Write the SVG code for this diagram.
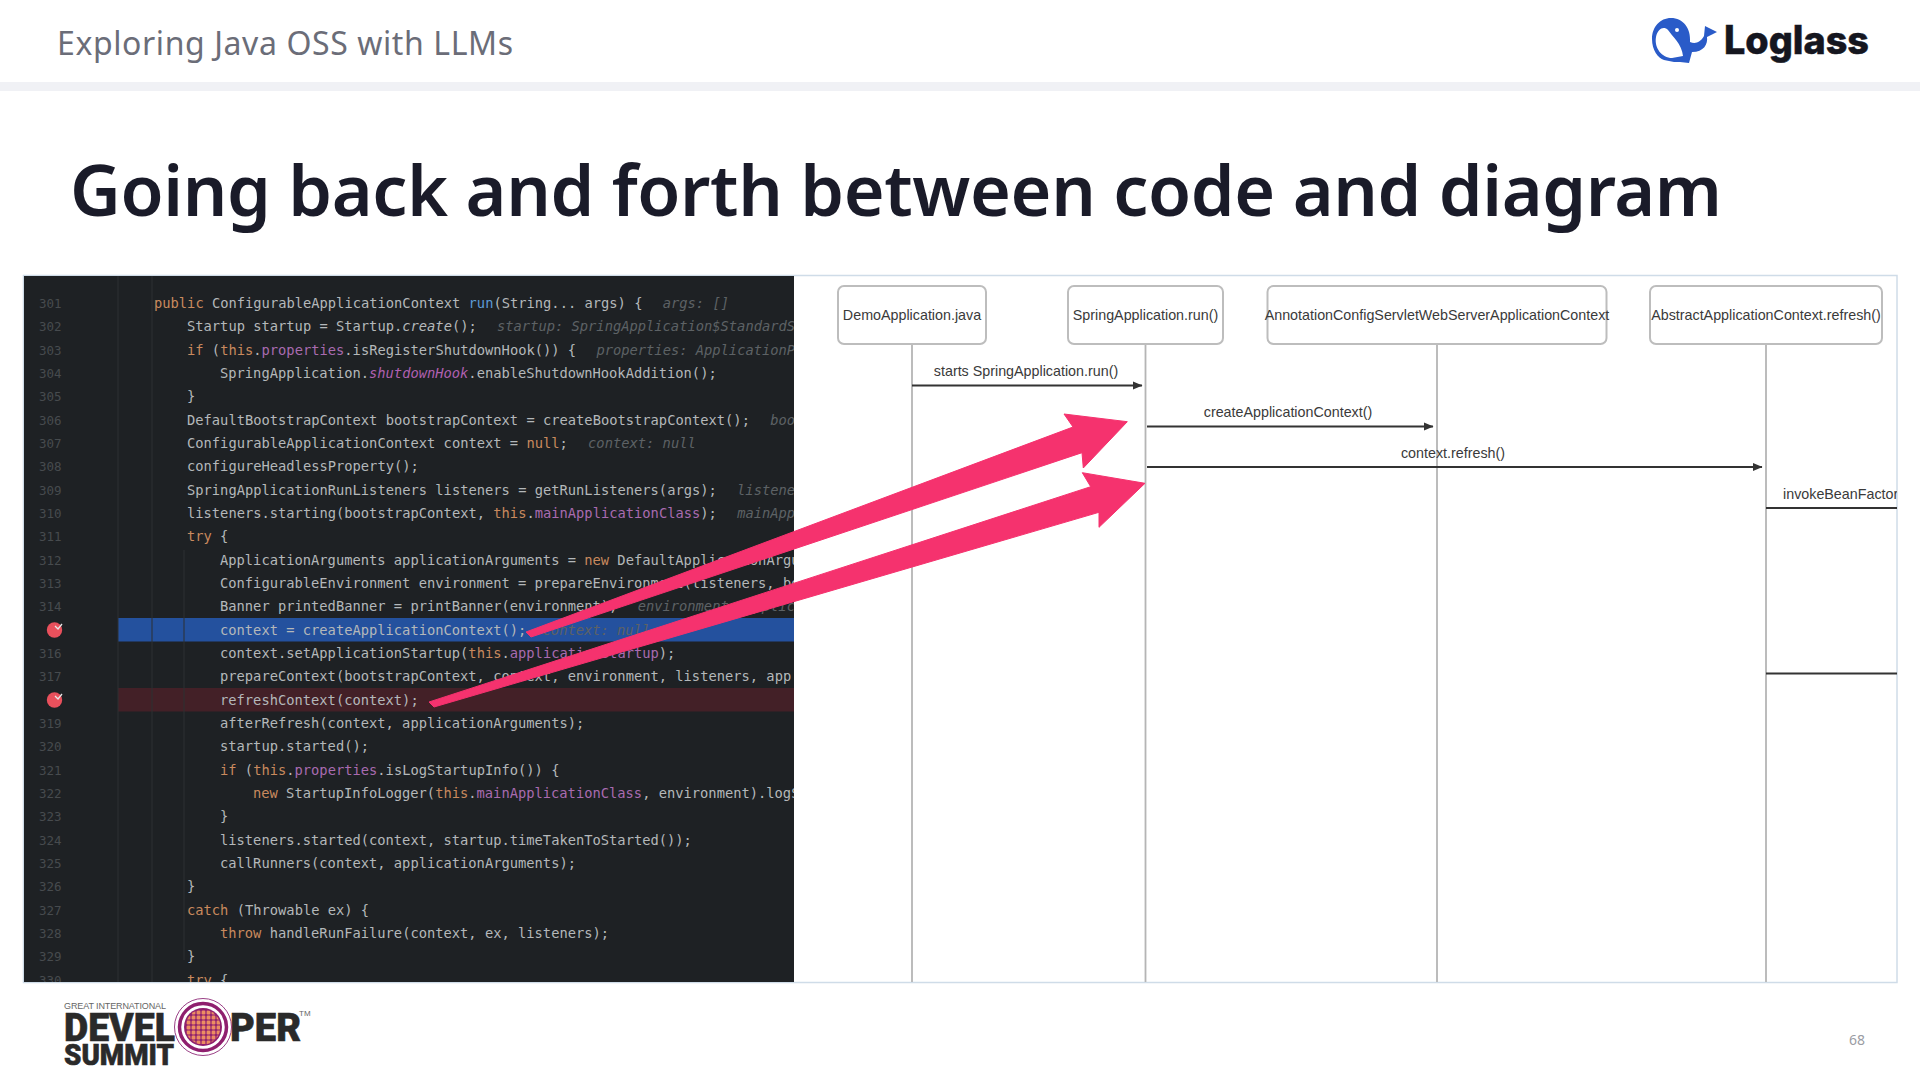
<svg xmlns="http://www.w3.org/2000/svg" width="1920" height="1080" viewBox="0 0 1920 1080">
<defs>
<style>
.c{font-family:"DejaVu Sans Mono","Liberation Mono",monospace;font-size:13.75px;fill:#b4b8ba}
.n{font-family:"DejaVu Sans Mono","Liberation Mono",monospace;font-size:12.5px;fill:#474b4e}
.k{fill:#c98a5e}.f{fill:#a96bb0}.h{fill:#5d6265;font-style:italic}.b{fill:#5c9bd6}.i{fill:#b060b0;font-style:italic}
.s{font-family:"Liberation Sans",Arial,sans-serif;font-size:14.3px;fill:#3a3a3a}
.box{fill:#fff;stroke:#bdbdbd;stroke-width:2}
.life{stroke:#b5b5b5;stroke-width:1.8;fill:none}
.msg{stroke:#333;stroke-width:1.8;fill:none}
.g{stroke:#2c3033;stroke-width:1;fill:none}
.d{font-family:Roboto,sans-serif;font-weight:900;fill:#2a2a2a;stroke:#2a2a2a;stroke-width:.6}
</style>
<marker id="ah" markerUnits="userSpaceOnUse" markerWidth="10" markerHeight="10" refX="9" refY="5" orient="auto"><path d="M0 1 L9.500 5 L0 9Z" fill="#333"/></marker>
<clipPath id="code"><rect x="24" y="276" width="770" height="706"/></clipPath>
<clipPath id="seq"><rect x="794" y="276" width="1103" height="706"/></clipPath>
<clipPath id="globe"><circle cx="203" cy="1027" r="17.500"/></clipPath>
<pattern id="dots" patternUnits="userSpaceOnUse" x="186" y="1010" width="5" height="5"><rect width="5" height="5" fill="#8f1f6e"/><rect x=".6" y=".6" width="3.800" height="3.800" rx="1.200" fill="#ec8d62"/></pattern>
</defs>
<rect width="1920" height="1080" fill="#fff"/>
<rect y="82" width="1920" height="9" fill="#f0f1f5"/>
<text id="header" x="57" y="55" font-family="'Noto Sans',sans-serif" font-size="32" fill="#6b6d78" textLength="456" lengthAdjust="spacing">Exploring Java OSS with LLMs</text>
<g id="loglass">
<path d="M1671 18C1660 18 1652 27 1652 39C1652 50 1658 58 1664 60L1674 62L1680 62L1689 63L1692 52C1704 52 1708 44 1707 37L1717 32L1705 26L1704 36C1700 43 1695 44 1690 42C1691 28 1683 18 1671 18Z" fill="#2a5bc8"/>
<path d="M1656 37C1658 28 1664 26 1668 30C1672 36 1682 44 1683 56L1672 58C1662 58 1654 48 1656 37Z" fill="#fff"/>
<circle cx="1677" cy="30" r="2" fill="#fff"/>
<text x="1724" y="54" font-family="Inter,'Noto Sans',sans-serif" font-weight="800" font-size="39" fill="#15161f" stroke="#15161f" stroke-width=".5" textLength="145" lengthAdjust="spacingAndGlyphs">Loglass</text>
</g>
<text id="title" x="70" y="216" font-family="'Noto Sans',sans-serif" font-weight="600" font-size="70" fill="#1a1b29" textLength="1652" lengthAdjust="spacing">Going back and forth between code and diagram</text>
<rect x="23.500" y="275.500" width="1873.500" height="707" fill="#fff" stroke="#cfdce8" stroke-width="1.500"/>
<g id="code-panel" clip-path="url(#code)">
<rect x="24" y="276" width="770" height="706" fill="#1e2124"/>
<rect x="118" y="618" width="676" height="23.500" fill="#24519e"/>
<rect x="118" y="688" width="676" height="23.500" fill="#432027"/>
<path class="g" d="M118 276V982M152 276V982M184 550V960"/>
<circle cx="54.500" cy="630" r="7.700" fill="#e9505c"/><circle cx="54.500" cy="700" r="7.700" fill="#e9505c"/>
<path d="M55 626l3 3l4-5M55 696l3 3l4-5" stroke="#e8e8e8" stroke-width="1.300" fill="none"/>
<g class="n">
<text x="39" y="308">301</text><text x="39" y="331">302</text><text x="39" y="355">303</text><text x="39" y="378">304</text><text x="39" y="401">305</text><text x="39" y="425">306</text><text x="39" y="448">307</text><text x="39" y="471">308</text><text x="39" y="495">309</text><text x="39" y="518">310</text><text x="39" y="541">311</text><text x="39" y="565">312</text><text x="39" y="588">313</text><text x="39" y="611">314</text><text x="39" y="658">316</text><text x="39" y="681">317</text><text x="39" y="728">319</text><text x="39" y="751">320</text><text x="39" y="775">321</text><text x="39" y="798">322</text><text x="39" y="821">323</text><text x="39" y="845">324</text><text x="39" y="868">325</text><text x="39" y="891">326</text><text x="39" y="915">327</text><text x="39" y="938">328</text><text x="39" y="961">329</text><text x="39" y="985">330</text>
</g>
<g class="c">
<text x="154" y="308"><tspan class="k">public</tspan> ConfigurableApplicationContext <tspan class="b">run</tspan>(String... args) { <tspan class="h" dx="12">args: []</tspan></text>
<text x="187" y="331">Startup startup = Startup.<tspan font-style="italic">create</tspan>(); <tspan class="h" dx="12">startup: SpringApplication$StandardStartup</tspan></text>
<text x="187" y="355"><tspan class="k">if</tspan> (<tspan class="k">this</tspan>.<tspan class="f">properties</tspan>.isRegisterShutdownHook()) { <tspan class="h" dx="12">properties: ApplicationProperties</tspan></text>
<text x="220" y="378">SpringApplication.<tspan class="i">shutdownHook</tspan>.enableShutdownHookAddition();</text>
<text x="187" y="401">}</text>
<text x="187" y="425">DefaultBootstrapContext bootstrapContext = createBootstrapContext(); <tspan class="h" dx="12">bootstrap</tspan></text>
<text x="187" y="448">ConfigurableApplicationContext context = <tspan class="k">null</tspan>; <tspan class="h" dx="12">context: null</tspan></text>
<text x="187" y="471">configureHeadlessProperty();</text>
<text x="187" y="495">SpringApplicationRunListeners listeners = getRunListeners(args); <tspan class="h" dx="12">listeners</tspan></text>
<text x="187" y="518">listeners.starting(bootstrapContext, <tspan class="k">this</tspan>.<tspan class="f">mainApplicationClass</tspan>); <tspan class="h" dx="12">mainApp</tspan></text>
<text x="187" y="541"><tspan class="k">try</tspan> {</text>
<text x="220" y="565">ApplicationArguments applicationArguments = <tspan class="k">new</tspan> DefaultApplicationArguments(args);</text>
<text x="220" y="588">ConfigurableEnvironment environment = prepareEnvironment(listeners, bootstrap</text>
<text x="220" y="611">Banner printedBanner = printBanner(environment); <tspan class="h" dx="12">environment: Applic</tspan></text>
<text x="220" y="635">context = createApplicationContext(); <tspan class="h" dx="8">context: null</tspan></text>
<text x="220" y="658">context.setApplicationStartup(<tspan class="k">this</tspan>.<tspan class="f">applicationStartup</tspan>);</text>
<text x="220" y="681">prepareContext(bootstrapContext, context, environment, listeners, app</text>
<text x="220" y="705">refreshContext(context);</text>
<text x="220" y="728">afterRefresh(context, applicationArguments);</text>
<text x="220" y="751">startup.started();</text>
<text x="220" y="775"><tspan class="k">if</tspan> (<tspan class="k">this</tspan>.<tspan class="f">properties</tspan>.isLogStartupInfo()) {</text>
<text x="253" y="798"><tspan class="k">new</tspan> StartupInfoLogger(<tspan class="k">this</tspan>.<tspan class="f">mainApplicationClass</tspan>, environment).logStarted</text>
<text x="220" y="821">}</text>
<text x="220" y="845">listeners.started(context, startup.timeTakenToStarted());</text>
<text x="220" y="868">callRunners(context, applicationArguments);</text>
<text x="187" y="891">}</text>
<text x="187" y="915"><tspan class="k">catch</tspan> (Throwable ex) {</text>
<text x="220" y="938"><tspan class="k">throw</tspan> handleRunFailure(context, ex, listeners);</text>
<text x="187" y="961">}</text>
<text x="187" y="985"><tspan class="k">try</tspan> {</text>
</g>
</g>
<g id="sequence" clip-path="url(#seq)">
<g id="connectors">
<path class="life" d="M912 344V982M1145.500 344V982M1437 344V982M1766 344V982"/>
<path class="msg" marker-end="url(#ah)" d="M912 385.500H1142"/>
<path class="msg" marker-end="url(#ah)" d="M1147 426.500H1433"/>
<path class="msg" marker-end="url(#ah)" d="M1147 467H1762"/>
<path class="msg" d="M1766 508H1897M1766 673.500H1897"/>
</g>
<g id="n-demo"><rect class="box" x="838" y="286" width="148" height="58" rx="6"/><text class="s" x="912" y="320" text-anchor="middle">DemoApplication.java</text></g>
<g id="n-spring"><rect class="box" x="1068" y="286" width="155" height="58" rx="6"/><text class="s" x="1145.500" y="320" text-anchor="middle">SpringApplication.run()</text></g>
<g id="n-annot"><rect class="box" x="1267.500" y="286" width="339" height="58" rx="6"/><text class="s" x="1437" y="320" text-anchor="middle">AnnotationConfigServletWebServerApplicationContext</text></g>
<g id="n-abstract"><rect class="box" x="1650" y="286" width="232" height="58" rx="6"/><text class="s" x="1766" y="320" text-anchor="middle">AbstractApplicationContext.refresh()</text></g>
<text class="s" x="1026" y="376" text-anchor="middle">starts SpringApplication.run()</text>
<text class="s" x="1288" y="417" text-anchor="middle">createApplicationContext()</text>
<text class="s" x="1453" y="458" text-anchor="middle">context.refresh()</text>
<text class="s" x="1783" y="499">invokeBeanFactoryPostProcessors()</text>
</g>
<g id="pink" fill="#f5326e" stroke="#f5326e" stroke-width="1" stroke-linejoin="round">
<path d="M526 632L1073 427L1064 414L1127.300 421.700L1083.300 468L1082 452.700L531 637Z"/>
<path d="M429 702L1090.700 486.700L1082.300 472.700L1145 483.300L1099 527.300L1099 512.300L434 707Z"/>
</g>
<g id="summit">
<text x="64" y="1009" font-family="'Liberation Sans',sans-serif" font-size="9" fill="#666" textLength="102" lengthAdjust="spacing">GREAT INTERNATIONAL</text>
<text class="d" x="64" y="1041" font-size="39" textLength="111" lengthAdjust="spacingAndGlyphs">DEVEL</text>
<text class="d" x="64" y="1065" font-size="30" textLength="110" lengthAdjust="spacingAndGlyphs">SUMMIT</text>
<text class="d" x="230" y="1041" font-size="39" textLength="71" lengthAdjust="spacingAndGlyphs">PER</text>
<text x="299" y="1016" font-family="'Liberation Sans',sans-serif" font-size="8" fill="#666">TM</text>
<circle cx="203" cy="1027" r="28.500" fill="#fff" stroke="#8f2a78" stroke-width=".9"/>
<circle cx="203" cy="1027" r="23.500" fill="#fff" stroke="#8f1f6e" stroke-width="3.500"/>
<circle cx="203" cy="1027" r="19" fill="#8f1f6e"/>
<rect x="186" y="1010" width="34" height="34" fill="url(#dots)" clip-path="url(#globe)"/>
</g>
<text id="page" x="1849" y="1045" font-family="'Noto Sans',sans-serif" font-size="14" fill="#9a9ca3">68</text>
</svg>
